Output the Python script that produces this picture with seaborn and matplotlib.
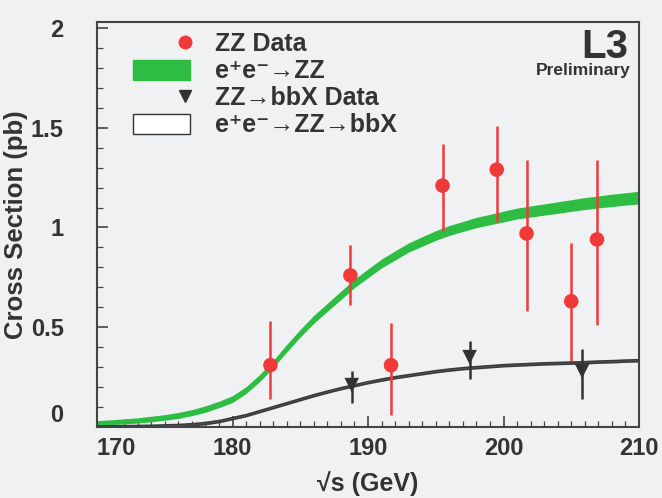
import numpy as np
import pandas as pd
import matplotlib
matplotlib.use("Agg")
import matplotlib.pyplot as plt
import seaborn as sns
from matplotlib.lines import Line2D
from matplotlib.patches import Patch, Rectangle
from matplotlib.legend_handler import HandlerBase
from matplotlib.ticker import MultipleLocator

# ---------------- data ----------------
zz_energy = [182.8, 188.7, 191.7, 195.5, 199.5, 201.7, 205.0, 206.9]
zz_xsec = [0.31, 0.76, 0.31, 1.21, 1.29, 0.97, 0.63, 0.94]
zz_err_lo = [0.17, 0.15, 0.25, 0.23, 0.26, 0.39, 0.30, 0.43]
zz_err_hi = [0.22, 0.15, 0.21, 0.21, 0.22, 0.37, 0.29, 0.40]

bb_energy = [188.8, 197.5, 205.8]
bb_xsec = [0.21, 0.35, 0.28]
bb_err_lo = [0.09, 0.11, 0.14]
bb_err_hi = [0.07, 0.08, 0.11]

curve_energy = [170, 171, 172, 173, 174, 175, 176, 177, 178, 179, 180, 181, 182,
                183, 184, 185, 186, 187, 188, 189, 190, 191, 192, 193, 194, 195,
                196, 197, 198, 199, 200, 201, 202, 203, 204, 205, 206, 207, 208,
                209, 210]
zz_pred = [0.020, 0.024, 0.028, 0.033, 0.040, 0.048, 0.058, 0.072, 0.090, 0.113,
           0.140, 0.185, 0.245, 0.315, 0.395, 0.470, 0.540, 0.600, 0.660, 0.720,
           0.770, 0.820, 0.860, 0.900, 0.930, 0.960, 0.985, 1.005, 1.025, 1.040,
           1.055, 1.070, 1.080, 1.090, 1.100, 1.110, 1.120, 1.128, 1.136, 1.143,
           1.150]
zz_pred_halfwidth = [0.012, 0.012, 0.013, 0.013, 0.014, 0.014, 0.015, 0.015, 0.016,
                     0.016, 0.017, 0.017, 0.018, 0.018, 0.019, 0.019, 0.020, 0.020,
                     0.021, 0.021, 0.022, 0.022, 0.023, 0.023, 0.024, 0.024, 0.025,
                     0.025, 0.026, 0.026, 0.027, 0.027, 0.028, 0.028, 0.029, 0.029,
                     0.030, 0.030, 0.031, 0.031, 0.032]
bb_pred = [0.003, 0.003, 0.004, 0.005, 0.006, 0.008, 0.010, 0.014, 0.020, 0.030,
           0.045, 0.060, 0.080, 0.100, 0.120, 0.140, 0.160, 0.178, 0.195, 0.210,
           0.225, 0.238, 0.250, 0.260, 0.270, 0.280, 0.288, 0.295, 0.300, 0.305,
           0.310, 0.313, 0.316, 0.319, 0.321, 0.323, 0.325, 0.328, 0.330, 0.333,
           0.335]
bb_pred_halfwidth = 0.005

x_ticks = [170, 180, 190, 200, 210]
y_ticks = [0, 0.5, 1, 1.5, 2]
y_tick_labels = ["0", "0.5", "1", "1.5", "2"]

# ---------------- style ----------------
sns.set_theme(style="ticks")
BG = "#eff1f3"
plt.rcParams["font.family"] = ["Liberation Sans", "DejaVu Sans"]
plt.rcParams["font.weight"] = "bold"
plt.rcParams["axes.labelweight"] = "bold"

RED = "#f03a3a"
GREEN = "#2dbd42"
DARK = "#333333"

fig = plt.figure(figsize=(6.62, 4.98), dpi=100, facecolor=BG)
ax = fig.add_axes([97 / 662, 1 - 427 / 498, 542 / 662, 405 / 498])
ax.set_facecolor(BG)

curves = pd.DataFrame({"E": curve_energy, "zz": zz_pred, "hw": zz_pred_halfwidth,
                       "bb": bb_pred})
ax.fill_between(curves["E"], curves["zz"] - curves["hw"], curves["zz"] + curves["hw"],
                color=GREEN, lw=0, zorder=2)
ax.fill_between(curves["E"], curves["bb"] - bb_pred_halfwidth, curves["bb"] + bb_pred_halfwidth,
                facecolor="#777777", edgecolor="#3a3a3a", lw=1.2, zorder=2)

zz = pd.DataFrame({"E": zz_energy, "xs": zz_xsec})
bb = pd.DataFrame({"E": bb_energy, "xs": bb_xsec})

ax.errorbar(zz_energy, zz_xsec, yerr=[zz_err_lo, zz_err_hi], fmt="none",
            ecolor=RED, elinewidth=1.8, capsize=0, zorder=3)
ax.errorbar(bb_energy, bb_xsec, yerr=[bb_err_lo, bb_err_hi], fmt="none",
            ecolor=DARK, elinewidth=1.8, capsize=0, zorder=3)
sns.scatterplot(data=zz, x="E", y="xs", ax=ax, color=RED, s=110, marker="o",
                edgecolor="none", zorder=4, legend=False)
sns.scatterplot(data=bb, x="E", y="xs", ax=ax, color=DARK, s=110, marker="v",
                edgecolor="none", zorder=4, legend=False)

ax.set_xlim(170, 210)
ax.set_ylim(0, 2.03)
ax.set_xticks(x_ticks)
ax.set_yticks(y_ticks)
ax.set_yticklabels(y_tick_labels)
ax.xaxis.set_minor_locator(MultipleLocator(1))
ax.yaxis.set_minor_locator(MultipleLocator(0.1))
ax.tick_params(which="both", direction="in", colors="#444444", labelcolor="#333333")
ax.tick_params(which="major", length=8, width=1.2)
ax.tick_params(which="minor", length=4, width=0.9)
ax.tick_params(axis="x", labelsize=17, pad=7)
ax.tick_params(axis="y", labelsize=17, pad=24)
for lab in ax.get_xticklabels() + ax.get_yticklabels():
    lab.set_fontweight("bold")
xl = ax.get_xticklabels()
xl[0].set_horizontalalignment("left")
yl = ax.get_yticklabels()
yl[0].set_verticalalignment("bottom")
for sp in ax.spines.values():
    sp.set_color("#444444")
    sp.set_linewidth(1.5)

ax.set_xlabel("\u221as (GeV)", fontsize=18, fontweight="bold", color="#333333", labelpad=8)
ax.set_ylabel("Cross Section (pb)", fontsize=18.5, fontweight="bold", color="#333333", labelpad=2)

ax.text(0.98, 0.985, "L3", transform=ax.transAxes, ha="right", va="top",
        fontsize=29, fontweight="bold", color="#333333")
ax.text(0.985, 0.88, "Preliminary", transform=ax.transAxes, ha="right", va="center",
        fontsize=12.5, fontweight="bold", color="#333333")


class RightMarker(HandlerBase):
    def __init__(self, marker, color, size):
        super().__init__()
        self.marker, self.color, self.size = marker, color, size

    def create_artists(self, legend, orig_handle, xdescent, ydescent, width, height,
                       fontsize, trans):
        ln = Line2D([width - xdescent - 3], [height / 2 - ydescent], marker=self.marker,
                    color=self.color, markersize=self.size, linestyle="none",
                    transform=trans)
        return [ln]


class BoxHandler(HandlerBase):
    def __init__(self, face, edge):
        super().__init__()
        self.face, self.edge = face, edge

    def create_artists(self, legend, orig_handle, xdescent, ydescent, width, height,
                       fontsize, trans):
        r = Rectangle((-xdescent, -ydescent - 0.1 * height), width, height * 1.15,
                      facecolor=self.face, edgecolor=self.edge, lw=1.0, transform=trans)
        return [r]


h_zz = Line2D([], [], label="ZZ Data")
h_zzp = Patch(label="e\u207ae\u207b\u2192ZZ")
h_bb = Line2D([], [], label="ZZ\u2192bbX Data")
h_bbp = Patch(label="e\u207ae\u207b\u2192ZZ\u2192bbX")
leg = ax.legend(handles=[h_zz, h_zzp, h_bb, h_bbp],
                handler_map={h_zz: RightMarker("o", RED, 9),
                             h_zzp: BoxHandler(GREEN, GREEN),
                             h_bb: RightMarker("v", DARK, 8),
                             h_bbp: BoxHandler("white", DARK)},
                loc="upper left", bbox_to_anchor=(0.067, 0.975), frameon=False,
                borderpad=0, borderaxespad=0, handlelength=2.25, handletextpad=1.0,
                labelspacing=0.12, prop={"size": 18, "weight": "bold"})
for t in leg.get_texts():
    t.set_color("#333333")

fig.savefig("out.png", dpi=100, facecolor=BG)
